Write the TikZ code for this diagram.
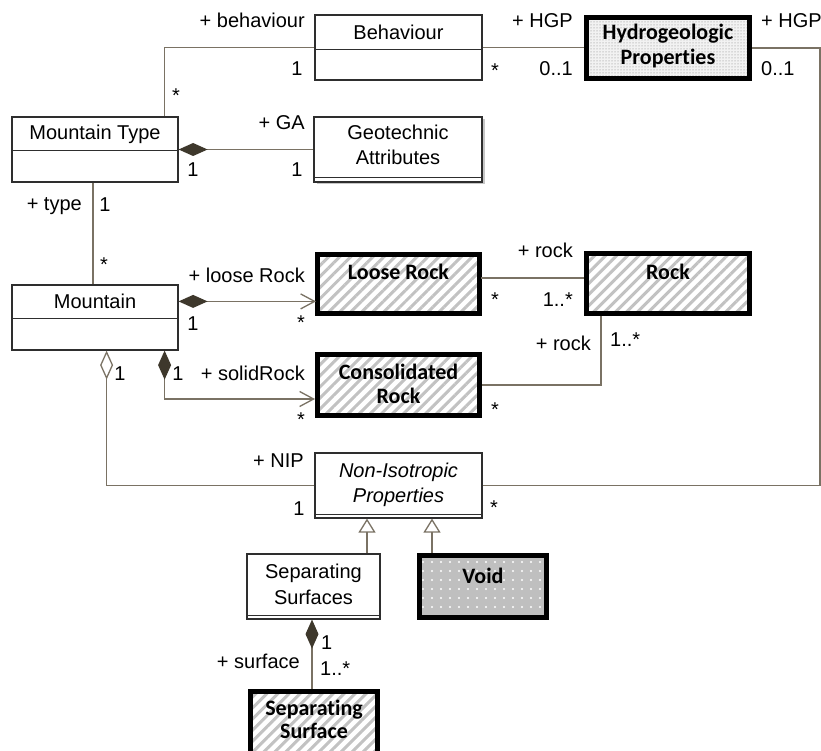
\documentclass[tikz,border=0pt]{standalone}
\usepackage{fontspec}
\setmainfont{Liberation Sans}
\newfontfamily\entfamily[Ligatures={NoCommon}]{Carlito}
\usetikzlibrary{arrows.meta,patterns,patterns.meta,shadows}

\definecolor{edgec}{HTML}{7A7264}
\definecolor{diamc}{HTML}{3E382C}
\definecolor{boxc}{HTML}{2E2E2E}
\definecolor{hatchc}{HTML}{C2C2C2}

\newcommand\umlfont{\fontsize{20}{25}\selectfont}
\newcommand\umlitfont{\fontsize{20}{25}\selectfont\itshape}
\newcommand\entfont{\entfamily\bfseries\fontsize{22}{24}\selectfont}

\tikzset{
  umlbox/.style={draw=boxc, line width=1.2pt, fill=white, inner sep=0pt},
  entity/.style={draw=black, line width=5pt, inner sep=0pt},
  hatched/.style={preaction={fill=white},
    pattern={Lines[angle=45,distance=7.8pt,line width=3pt]}, pattern color=hatchc},
  waved/.style={preaction={fill=gray!10},
    pattern={Dots[distance=3pt,radius=0.75pt]}, pattern color=gray!50},
  checked/.style={preaction={fill=gray!50},
    pattern={Dots[distance=9pt,radius=1.1pt]}, pattern color=white},
  edge/.style={draw=edgec, line width=1.3pt},
  comp/.style={edge, {Diamond[length=29pt,width=13pt,color=diamc,fill=diamc]}-},
  compnav/.style={edge, {Diamond[length=29pt,width=13pt,color=diamc,fill=diamc]}-{Straight Barb[length=14pt,width=15pt]}},
  agg/.style={edge, {Diamond[open,length=29pt,width=13pt,fill=white]}-},
  gen/.style={edge, -{Triangle[open,length=14pt,width=17pt,fill=white]}},
  role/.style={font=\umlfont, inner sep=0pt, text=black},
  classname/.style={font=\umlfont, inner sep=0pt, align=center},
  entname/.style={font=\entfont, inner sep=0pt, align=center},
  compline/.style={draw=boxc, line width=1.2pt},
}

\begin{document}
\begin{tikzpicture}[x=1pt,y=-1pt]
\useasboundingbox[fill=white] (0,0) rectangle (821,751);

% ---------- plain classes ----------
\node[umlbox, minimum width=167pt, minimum height=65pt] (beh) at (398.5,47.5) {};
\node[umlbox, minimum width=166pt, minimum height=65pt] (mt)  at (95,149.5) {};
\node[umlbox, minimum width=168pt, minimum height=65pt,
      drop shadow={shadow xshift=2.5pt,shadow yshift=-2.5pt,fill=gray!45,opacity=1}] (geo) at (398,149.5) {};
\node[umlbox, minimum width=166pt, minimum height=65pt] (m)   at (95,317.5) {};
\node[umlbox, minimum width=167pt, minimum height=65pt] (nip) at (398.5,485.5) {};
\node[umlbox, minimum width=133pt, minimum height=65pt] (sss) at (313.5,586.5) {};

% compartment separators
\draw[compline] ([yshift=-35pt]beh.north west) -- ([yshift=-35pt]beh.north east);
\draw[compline] ([yshift=-34pt]mt.north west) -- ([yshift=-34pt]mt.north east);
\draw[compline] ([yshift=5pt]geo.south west) -- ([yshift=5pt]geo.south east);
\draw[compline] ([yshift=-34pt]m.north west) -- ([yshift=-34pt]m.north east);
\draw[compline] ([yshift=4pt]nip.south west) -- ([yshift=4pt]nip.south east);
\draw[compline] ([yshift=4pt]sss.south west) -- ([yshift=4pt]sss.south east);

% ---------- highlighted classes ----------
\node[entity, waved,   minimum width=163pt, minimum height=61pt] (hgp)  at (668,48) {};
\node[entity, hatched, minimum width=162pt, minimum height=59pt] (lr)   at (398.5,284) {};
\node[entity, hatched, minimum width=163pt, minimum height=60pt] (rock) at (668,283.5) {};
\node[entity, hatched, minimum width=162pt, minimum height=61pt] (cr)   at (398.5,385) {};
\node[entity, checked, minimum width=127pt, minimum height=62pt] (void) at (483,586.5) {};
\node[entity, hatched, minimum width=127pt, minimum height=62pt] (ss)   at (314,722.5) {};

% ---------- class names (multi-line names sit on their last baseline) ----------
\node[classname, anchor=base] (behT) at (398.5,40) {Behaviour};
\node[classname, anchor=base] (mtT)  at (95,140) {Mountain Type};
\node[classname, anchor=base] (geoT) at (398,165) {Geotechnic\\Attributes};
\node[classname, anchor=base] (mT)   at (95,308) {Mountain};
\node[classname, anchor=base, font=\umlitfont] (nipT) at (398.5,502) {Non-Isotropic\\Properties};
\node[classname, anchor=base, font=\umlfont\fontsize{20}{26}\selectfont] (sssT) at (313.5,604) {Separating\\Surfaces};
\node[entname, anchor=base, font=\entfont\fontsize{22}{25}\selectfont] (hgpT) at (668,65) {Hydrogeologic\\Properties};
\node[entname, anchor=base] (lrT)   at (398.5,279) {Loose Rock};
\node[entname, anchor=base] (rockT) at (668,279) {Rock};
\node[entname, anchor=base] (crT)   at (398.5,403) {Consolidated\\Rock};
\node[entname, anchor=base] (voidT) at (483,583) {Void};
\node[entname, anchor=base, font=\entfont\fontsize{22}{23}\selectfont] (ssT) at (314,738) {Separating\\Surface};

% ---------- attachment points ----------
\coordinate (mtA)  at ([xshift=-14pt]mt.north east);
\coordinate (rx)   at (820,0);
\coordinate (mLR)  at ([yshift=-17pt]m.north east);
\coordinate (mCR)  at ([xshift=-14pt]m.south east);
\coordinate (mNIP) at ([xshift=-72pt]m.south east);
\coordinate (lrR)  at ([yshift=6pt]lr.east);
\coordinate (rkB)  at ([xshift=17pt]rock.south west);
\coordinate (sssG) at ([xshift=53.5pt]sss.north);
\coordinate (voidG) at ([xshift=-51pt]void.north);
\coordinate (sssB) at ([xshift=-1.5pt]sss.south);
\coordinate (mtB)  at ([xshift=-2pt]mt.south);

% ---------- connectors ----------
\draw[edge] (beh.west) -| (mtA);
\draw[edge] (beh.east) -- (beh.east -| hgp.west);
\draw[edge] (hgp.east) -- (hgp.east -| rx) -- (nip.east -| rx) -- (nip.east);
\draw[comp] (mt.east) -- (geo.west);
\draw[edge] (mtB) -- (mtB |- m.north);
\draw[compnav] (mLR) -- (mLR -| lr.west);
\draw[compnav] (mCR) |- ([yshift=-14pt]cr.west);
\draw[agg] (mNIP) |- (nip.west);
\draw[edge] (lrR) -- (lrR -| rock.west);
\draw[edge] (rkB) |- (cr.east);
\draw[gen] (sssG) -- (sssG |- nip.south);
\draw[gen] (voidG) -- (voidG |- nip.south);
\draw[comp] (sssB) -- (sssB |- ss.north);

% ---------- roles and multiplicities ----------
\node[role, anchor=base east] (r1)  at (305,28)  {+ behaviour};
\node[role, anchor=base]      (r2)  at (297,76)  {1};
\node[role, anchor=base]      (r3)  at (176,103) {*};
\node[role, anchor=base east] (r4)  at (305,130) {+ GA};
\node[role, anchor=base]      (r5)  at (193,177) {1};
\node[role, anchor=base]      (r6)  at (297,177) {1};
\node[role, anchor=base east] (r7)  at (573,28)  {+ HGP};
\node[role, anchor=base]      (r8)  at (495,78)  {*};
\node[role, anchor=base east] (r9)  at (573,76)  {0..1};
\node[role, anchor=base west] (r10) at (761,28)  {+ HGP};
\node[role, anchor=base west] (r11) at (761,76)  {0..1};
\node[role, anchor=base east] (r12) at (82,211)  {+ type};
\node[role, anchor=base]      (r13) at (105,212) {1};
\node[role, anchor=base]      (r14) at (104,271) {*};
\node[role, anchor=base east] (r15) at (305,282) {+ loose Rock};
\node[role, anchor=base]      (r16) at (193,330) {1};
\node[role, anchor=base]      (r17) at (301,329) {*};
\node[role, anchor=base]      (r18) at (120,380) {1};
\node[role, anchor=base]      (r19) at (178,380) {1};
\node[role, anchor=base east] (r20) at (305,380) {+ solidRock};
\node[role, anchor=base]      (r21) at (301,426) {*};
\node[role, anchor=base east] (r22) at (573,258) {+ rock};
\node[role, anchor=base]      (r23) at (495,306) {*};
\node[role, anchor=base east] (r24) at (573,306) {1..*};
\node[role, anchor=base east] (r25) at (591,350) {+ rock};
\node[role, anchor=base west] (r26) at (610,346) {1..*};
\node[role, anchor=base]      (r27) at (495,416) {*};
\node[role, anchor=base east] (r28) at (304,467) {+ NIP};
\node[role, anchor=base]      (r29) at (299,515) {1};
\node[role, anchor=base]      (r30) at (494,514) {*};
\node[role, anchor=base west] (r31) at (321,649) {1};
\node[role, anchor=base east] (r32) at (300,668) {+ surface};
\node[role, anchor=base west] (r33) at (320,675) {1..*};
\end{tikzpicture}
\end{document}
